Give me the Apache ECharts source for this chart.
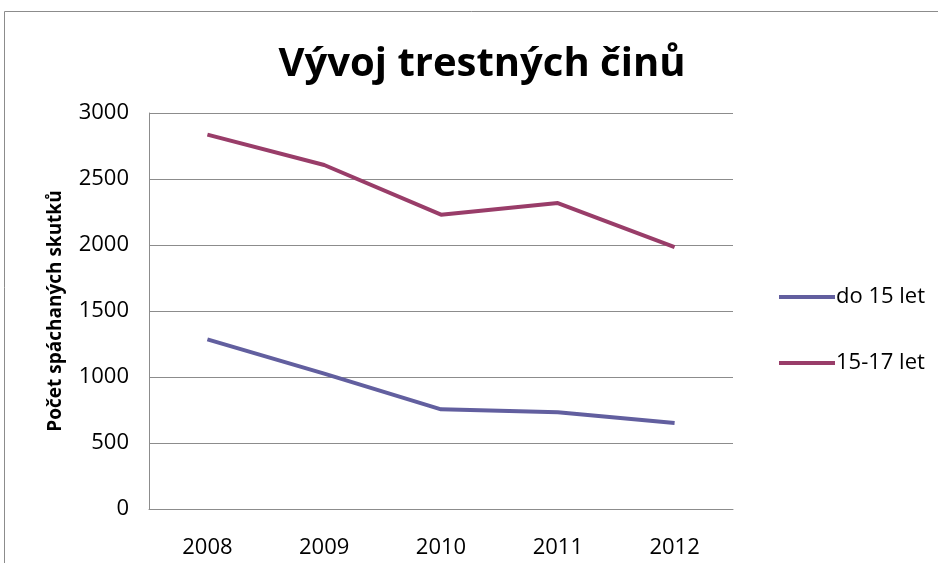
<!DOCTYPE html>
<html>
<head>
<meta charset="utf-8">
<script src="https://cdn.jsdelivr.net/npm/echarts@6/dist/echarts.min.js"></script>
<style>
  html, body { margin: 0; padding: 0; background: #fff; }
  #chart { width: 938px; height: 563px; }
</style>
</head>
<body>
<div id="chart"></div>
<script>
 var years = ['2008', '2009', '2010', '2011', '2012'];
 var do15 = [1285, 1025, 755, 733, 652];
 var od15do17 = [2836, 2606, 2230, 2318, 1984];
 var seriesNames = ['do 15 let', '15-17 let'];
 var seriesColors = ['#625f9f', '#993d69'];

 var font = 'Open Sans';

 var chart = echarts.init(document.getElementById('chart'));
 chart.setOption({
     animation: false,
     title: {
         text: 'Vývoj trestných činů',
         top: 40,
         left: 477,
         textAlign: 'center',
         textStyle: { fontFamily: font, fontSize: 40, fontWeight: 'bold', color: '#000' }
     },
     graphic: [{
         type: 'rect',
         shape: { x: 4.5, y: 11.5, width: 1000, height: 1000 },
         style: { fill: 'none', stroke: '#8c8c8c', lineWidth: 1 }
     }],
     legend: {
         orient: 'vertical',
         left: 774,
         top: 281,
         itemWidth: 56,
         itemHeight: 4,
         itemGap: 44,
         icon: 'rect',
         textStyle: { fontFamily: font, fontSize: 22, color: '#000', padding: [0, 0, 0, -4] },
         data: seriesNames
     },
     grid: { left: 149, right: 205, top: 113, bottom: 54 },
     xAxis: {
         type: 'category',
         data: years,
         boundaryGap: true,
         axisLine: { lineStyle: { color: '#8c8c8c' } },
         axisTick: { show: false },
         axisLabel: { margin: 28, fontFamily: font, fontSize: 22, color: '#000' }
     },
     yAxis: {
         type: 'value',
         min: 0,
         max: 3000,
         interval: 500,
         name: 'Počet spáchaných skutků',
         nameLocation: 'middle',
         nameGap: 84,
         nameTextStyle: { fontFamily: font, fontSize: 19, fontWeight: 'bold', color: '#000' },
         axisLine: { show: true, lineStyle: { color: '#8c8c8c' } },
         axisTick: { show: false },
         splitLine: { lineStyle: { color: '#8c8c8c' } },
         axisLabel: {
             margin: 20, fontFamily: font, fontSize: 22, color: '#000',
             formatter: function (v) { return String(v); }
         }
     },
     series: [{
         name: seriesNames[0],
         type: 'line',
         data: do15,
         symbol: 'none',
         color: seriesColors[0],
         lineStyle: { width: 4, color: seriesColors[0] }
     }, {
         name: seriesNames[1],
         type: 'line',
         data: od15do17,
         symbol: 'none',
         color: seriesColors[1],
         lineStyle: { width: 4, color: seriesColors[1] }
     }]
 });
</script>
</body>
</html>
